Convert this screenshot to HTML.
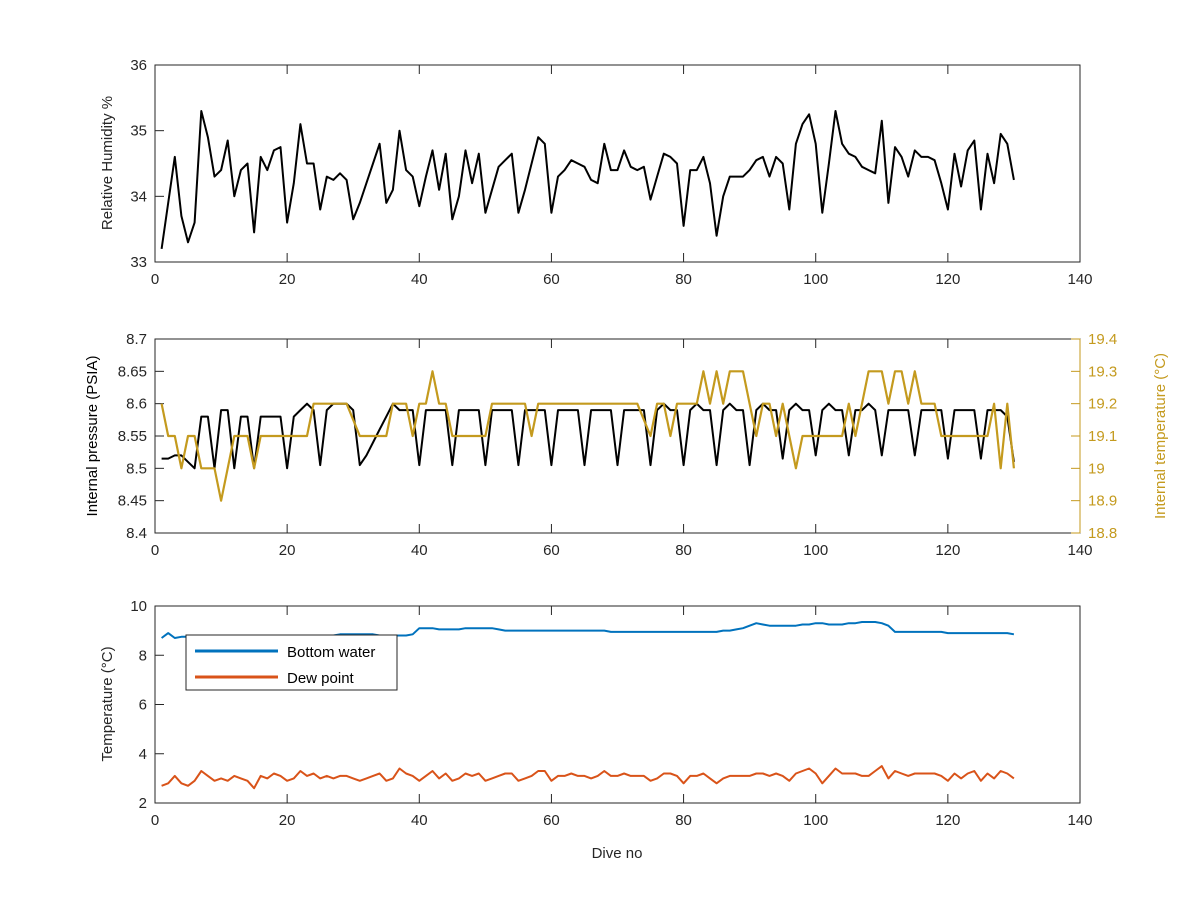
<!DOCTYPE html>
<html><head><meta charset="utf-8"><style>
body{margin:0;background:#fff;}
svg text{font-family:"Liberation Sans",Arial,sans-serif;font-size:15px;fill:#262626;}
</style></head><body>
<svg id="c" width="1200" height="900" xmlns="http://www.w3.org/2000/svg"></svg>
<script>
const humidity=[33.2,33.9,34.6,33.7,33.3,33.6,35.3,34.9,34.3,34.4,34.85,34.0,34.4,34.5,33.45,34.6,34.4,34.7,34.75,33.6,34.2,35.1,34.5,34.5,33.8,34.3,34.25,34.35,34.25,33.65,33.9,34.2,34.5,34.8,33.9,34.1,35.0,34.4,34.3,33.85,34.3,34.7,34.1,34.65,33.65,34.0,34.7,34.2,34.65,33.75,34.1,34.45,34.55,34.65,33.75,34.1,34.5,34.9,34.8,33.75,34.3,34.4,34.55,34.5,34.45,34.25,34.2,34.8,34.4,34.4,34.7,34.45,34.4,34.45,33.95,34.3,34.65,34.6,34.5,33.55,34.4,34.4,34.6,34.2,33.4,34.0,34.3,34.3,34.3,34.4,34.55,34.6,34.3,34.6,34.5,33.8,34.8,35.1,35.25,34.8,33.75,34.5,35.3,34.8,34.65,34.6,34.45,34.4,34.35,35.15,33.9,34.75,34.6,34.3,34.7,34.6,34.6,34.55,34.2,33.8,34.65,34.15,34.7,34.85,33.8,34.65,34.2,34.95,34.8,34.25];
const pressure=[8.515,8.515,8.52,8.52,8.51,8.5,8.58,8.58,8.5,8.59,8.59,8.5,8.58,8.58,8.5,8.58,8.58,8.58,8.58,8.5,8.58,8.59,8.6,8.59,8.505,8.59,8.6,8.6,8.6,8.59,8.505,8.52,8.54,8.56,8.58,8.6,8.59,8.59,8.59,8.505,8.59,8.59,8.59,8.59,8.505,8.59,8.59,8.59,8.59,8.505,8.59,8.59,8.59,8.59,8.505,8.59,8.59,8.59,8.59,8.505,8.59,8.59,8.59,8.59,8.505,8.59,8.59,8.59,8.59,8.505,8.59,8.59,8.59,8.59,8.505,8.59,8.6,8.59,8.59,8.505,8.59,8.6,8.59,8.59,8.505,8.59,8.6,8.59,8.59,8.505,8.59,8.6,8.59,8.59,8.515,8.59,8.6,8.59,8.59,8.52,8.59,8.6,8.59,8.59,8.52,8.59,8.59,8.6,8.59,8.52,8.59,8.59,8.59,8.59,8.52,8.59,8.59,8.59,8.59,8.515,8.59,8.59,8.59,8.59,8.515,8.59,8.59,8.59,8.58,8.51];
const intTemp=[19.2,19.1,19.1,19.0,19.1,19.1,19.0,19.0,19.0,18.9,19.0,19.1,19.1,19.1,19.0,19.1,19.1,19.1,19.1,19.1,19.1,19.1,19.1,19.2,19.2,19.2,19.2,19.2,19.2,19.15,19.1,19.1,19.1,19.1,19.1,19.2,19.2,19.2,19.1,19.2,19.2,19.3,19.2,19.2,19.1,19.1,19.1,19.1,19.1,19.1,19.2,19.2,19.2,19.2,19.2,19.2,19.1,19.2,19.2,19.2,19.2,19.2,19.2,19.2,19.2,19.2,19.2,19.2,19.2,19.2,19.2,19.2,19.2,19.15,19.1,19.2,19.2,19.1,19.2,19.2,19.2,19.2,19.3,19.2,19.3,19.2,19.3,19.3,19.3,19.2,19.1,19.2,19.2,19.1,19.2,19.1,19.0,19.1,19.1,19.1,19.1,19.1,19.1,19.1,19.2,19.1,19.2,19.3,19.3,19.3,19.2,19.3,19.3,19.2,19.3,19.2,19.2,19.2,19.1,19.1,19.1,19.1,19.1,19.1,19.1,19.1,19.2,19.0,19.2,19.0];
const bottomWater=[8.7,8.9,8.7,8.75,8.75,8.75,8.75,8.75,8.75,8.75,8.75,8.75,8.75,8.75,8.75,8.75,8.75,8.75,8.75,8.75,8.75,8.75,8.75,8.75,8.75,8.75,8.8,8.85,8.85,8.85,8.85,8.85,8.85,8.8,8.8,8.8,8.8,8.8,8.85,9.1,9.1,9.1,9.05,9.05,9.05,9.05,9.1,9.1,9.1,9.1,9.1,9.05,9.0,9.0,9.0,9.0,9.0,9.0,9.0,9.0,9.0,9.0,9.0,9.0,9.0,9.0,9.0,9.0,8.95,8.95,8.95,8.95,8.95,8.95,8.95,8.95,8.95,8.95,8.95,8.95,8.95,8.95,8.95,8.95,8.95,9.0,9.0,9.05,9.1,9.2,9.3,9.25,9.2,9.2,9.2,9.2,9.2,9.25,9.25,9.3,9.3,9.25,9.25,9.25,9.3,9.3,9.35,9.35,9.35,9.3,9.2,8.95,8.95,8.95,8.95,8.95,8.95,8.95,8.95,8.9,8.9,8.9,8.9,8.9,8.9,8.9,8.9,8.9,8.9,8.85];
const dewPoint=[2.7,2.8,3.1,2.8,2.7,2.9,3.3,3.1,2.9,3.0,2.9,3.1,3.0,2.9,2.6,3.1,3.0,3.2,3.1,2.9,3.0,3.3,3.1,3.2,3.0,3.1,3.0,3.1,3.1,3.0,2.9,3.0,3.1,3.2,2.9,3.0,3.4,3.2,3.1,2.9,3.1,3.3,3.0,3.2,2.9,3.0,3.2,3.1,3.2,2.9,3.0,3.1,3.2,3.2,2.9,3.0,3.1,3.3,3.3,2.9,3.1,3.1,3.2,3.1,3.1,3.0,3.1,3.3,3.1,3.1,3.2,3.1,3.1,3.1,2.9,3.0,3.2,3.2,3.1,2.8,3.1,3.1,3.2,3.0,2.8,3.0,3.1,3.1,3.1,3.1,3.2,3.2,3.1,3.2,3.1,2.9,3.2,3.3,3.4,3.2,2.8,3.1,3.4,3.2,3.2,3.2,3.1,3.1,3.3,3.5,3.0,3.3,3.2,3.1,3.2,3.2,3.2,3.2,3.1,2.9,3.2,3.0,3.2,3.3,2.9,3.2,3.0,3.3,3.2,3.0];
const xTicks=[0,20,40,60,80,100,120,140];
const hTicks=[33,34,35,36];
const pTicks=[8.4,8.45,8.5,8.55,8.6,8.65,8.7];
const tTicks=[18.8,18.9,19,19.1,19.2,19.3,19.4];
const wTicks=[2,4,6,8,10];

const svg=document.getElementById('c');
const NS='http://www.w3.org/2000/svg';
const X0=155,X1=1080;
const xs=v=>X0+(v/140)*(X1-X0);
function el(t,a,p){const e=document.createElementNS(NS,t);for(const k in a)e.setAttribute(k,a[k]);(p||svg).appendChild(e);return e;}
function txt(x,y,s,anchor,extra){const t=el('text',Object.assign({x:x,y:y,'text-anchor':anchor},extra||{}));t.textContent=s;return t;}
function axes(name,top,bot,min,max,ticks,showX){
  const g=el('g',{});
  
  
  const ys=v=>bot-(v-min)/(max-min)*(bot-top);
  el('rect',{x:X0,y:top,width:X1-X0,height:bot-top,fill:'none',stroke:'#262626','stroke-width':1},g);
  xTicks.forEach(v=>{const x=xs(v);el('line',{x1:x,x2:x,y1:bot,y2:bot-9,stroke:'#262626'},g);el('line',{x1:x,x2:x,y1:top,y2:top+9,stroke:'#262626'},g);
    const t=txt(x,bot+22,String(v),'middle');g.appendChild(t);
    
    });
  ticks.forEach(v=>{const y=ys(v);el('line',{x1:X0,x2:X0+9,y1:y,y2:y,stroke:'#262626'},g);
    const t=txt(X0-8,y+5,String(v),'end');g.appendChild(t);
    
    });
  return ys;
}
function line(data,xf,yf,color,w,name){
  const d=data.map((v,i)=>(i?'L':'M')+xf(i+1).toFixed(1)+','+yf(v).toFixed(1)).join('');
  const p=el('path',{d:d,fill:'none',stroke:color,'stroke-width':w,'stroke-linejoin':'round'});
  
  
  return p;
}
// Plot 1
const y1=axes('humidity',65,262,33,36,hTicks);
line(humidity,xs,y1,'#000',2,'humidity-line');
const t1=txt(0,0,'Relative Humidity %','middle',{transform:'translate(112,163) rotate(-90)'});


// Plot 2
const y2=axes('pressure',339,533,8.4,8.7,pTicks);
const y2r=v=>533-(v-18.8)/0.6*(533-339);
el('line',{x1:X1,x2:X1,y1:339,y2:533,stroke:'#C49A1E'});
tTicks.forEach(v=>{const y=y2r(v);el('line',{x1:X1,x2:X1-9,y1:y,y2:y,stroke:'#C49A1E'});
  const t=txt(X1+8,y+5,String(v),'start',{style:'fill:#C49A1E'});
  
  });
line(pressure,xs,y2,'#000',2,'pressure-line');
line(intTemp,xs,y2r,'#C49A1E',2.2,'internal-temperature-line');
const t2=txt(0,0,'Internal pressure (PSIA)','middle',{transform:'translate(97,436) rotate(-90)',style:'fill:#000'});


const t3=txt(0,0,'Internal temperature (°C)','middle',{transform:'translate(1165,436) rotate(-90)',style:'fill:#C49A1E'});


// Plot 3
const y3=axes('temperature',606,803,2,10,wTicks);
line(bottomWater,xs,y3,'#0072BD',2,'bottom-water-line');
line(dewPoint,xs,y3,'#D95319',2,'dew-point-line');
const t4=txt(0,0,'Temperature (°C)','middle',{transform:'translate(112,704) rotate(-90)'});


const t5=txt(617,858,'Dive no','middle');


// legend
const lg=el('g',{});


el('rect',{x:186,y:635,width:211,height:55,fill:'#fff',stroke:'#262626'},lg);
el('line',{x1:195,x2:278,y1:651,y2:651,stroke:'#0072BD','stroke-width':3},lg);
el('line',{x1:195,x2:278,y1:677,y2:677,stroke:'#D95319','stroke-width':3},lg);
const l1=txt(287,657,'Bottom water','start',{style:'fill:#000'});lg.appendChild(l1);


const l2=txt(287,683,'Dew point','start',{style:'fill:#000'});lg.appendChild(l2);


</script>
</body></html>
